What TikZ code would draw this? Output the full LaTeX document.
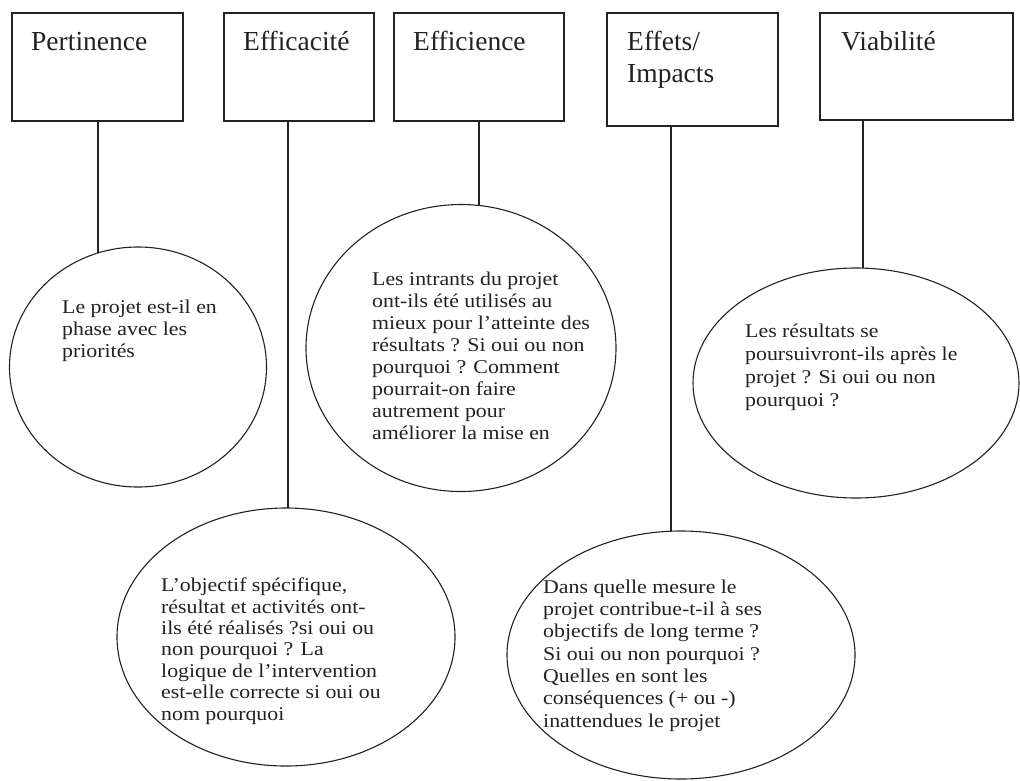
\documentclass[tikz,border=0pt]{standalone}
\usepackage{fontspec}
\setmainfont{Liberation Serif}
\newfontfamily\bodyfont[FakeStretch=1.12]{Liberation Serif}
\usetikzlibrary{shapes.geometric}
\definecolor{ink}{HTML}{222222}
\pgfdeclarelayer{paper}
\pgfdeclarelayer{wires}
\pgfsetlayers{paper,wires,main}
\begin{document}
\begin{tikzpicture}[x=1pt,y=-1pt,
  box/.style={draw=ink, line width=1.3pt, rectangle, inner sep=0pt},
  bubble/.style={draw=ink, line width=1.1pt, ellipse, fill=white, inner sep=0pt},
  % multi-line texts are anchored on the baseline of their last line
  title/.style={anchor=base west, inner sep=0pt, align=left,
    font=\fontsize{27.5}{32}\selectfont, text=ink},
  note/.style={anchor=base west, inner sep=0pt, align=left,
    font=\bodyfont\fontsize{19.5}{22}\selectfont, text=ink},
  stem/.style={draw=ink, line width=1.3pt}]

\begin{pgfonlayer}{paper}
  \fill[white] (0,0) rectangle (1020,780);
\end{pgfonlayer}
\useasboundingbox (0,0) rectangle (1020,780);

% criteria boxes
\node[box, minimum width=171pt, minimum height=108pt] (b1) at (97.5,67) {};
\node[box, minimum width=150pt, minimum height=108pt] (b2) at (299,67) {};
\node[box, minimum width=170pt, minimum height=108pt] (b3) at (479,67) {};
\node[box, minimum width=171pt, minimum height=113pt] (b4) at (692.5,69.5) {};
\node[box, minimum width=193pt, minimum height=107pt] (b5) at (916.5,66.5) {};

\node[title] (t1) at (31,50) {Pertinence};
\node[title] (t2) at (243,50) {Efficacité};
\node[title] (t3) at (413,50) {Efficience};
\node[title] (t4) at (627,82) {Effets/\\Impacts};
\node[title] (t5) at (841,50) {Viabilité};

% question bubbles
\node[bubble, minimum width=257pt, minimum height=240pt] (e1) at (138,367) {};
\node[bubble, minimum width=310pt, minimum height=287pt] (e3) at (461,348) {};
\node[bubble, minimum width=326pt, minimum height=230pt] (e5) at (856,383) {};
\node[bubble, minimum width=338pt, minimum height=258pt] (e2) at (286,637) {};
\node[bubble, minimum width=348pt, minimum height=248pt] (e4) at (681,655) {};

\node[note] (q1) at (62,357) {Le projet est-il en\\phase avec les\\priorités};
\node[note] (q3) at (372,439) {Les intrants du projet\\ont-ils été utilisés au\\mieux pour l’atteinte des\\résultats ? Si oui ou non\\pourquoi ? Comment\\pourrait-on faire\\autrement pour\\améliorer la mise en};
\node[note, font=\bodyfont\fontsize{19.5}{23}\selectfont] (q5) at (745,406) {Les résultats se\\poursuivront-ils après le\\projet ? Si oui ou non\\pourquoi ?};
\node[note, font=\bodyfont\fontsize{19.5}{21.4}\selectfont] (q2) at (161,720) {L’objectif spécifique,\\résultat et activités ont-\\ils été réalisés ?si oui ou\\non pourquoi ? La\\logique de l’intervention\\est-elle correcte si oui ou\\nom pourquoi};
\node[note, font=\bodyfont\fontsize{19.5}{22.3}\selectfont] (q4) at (543,727) {Dans quelle mesure le\\projet contribue-t-il à ses\\objectifs de long terme ?\\Si oui ou non pourquoi ?\\Quelles en sont les\\conséquences (+ ou -)\\inattendues le projet};

% vertical stems from each box down to its bubble
\coordinate (x1) at (98,0);
\coordinate (x2) at (288,0);
\coordinate (x3) at (479,0);
\coordinate (x4) at (671,0);
\coordinate (x5) at (863,0);
\begin{pgfonlayer}{wires}
  \draw[stem] (b1.south -| x1) -- (x1 |- e1.center);
  \draw[stem] (b2.south -| x2) -- (x2 |- e2.center);
  \draw[stem] (b3.south -| x3) -- (x3 |- e3.center);
  \draw[stem] (b4.south -| x4) -- (x4 |- e4.center);
  \draw[stem] (b5.south -| x5) -- (x5 |- e5.center);
\end{pgfonlayer}
\end{tikzpicture}
\end{document}
